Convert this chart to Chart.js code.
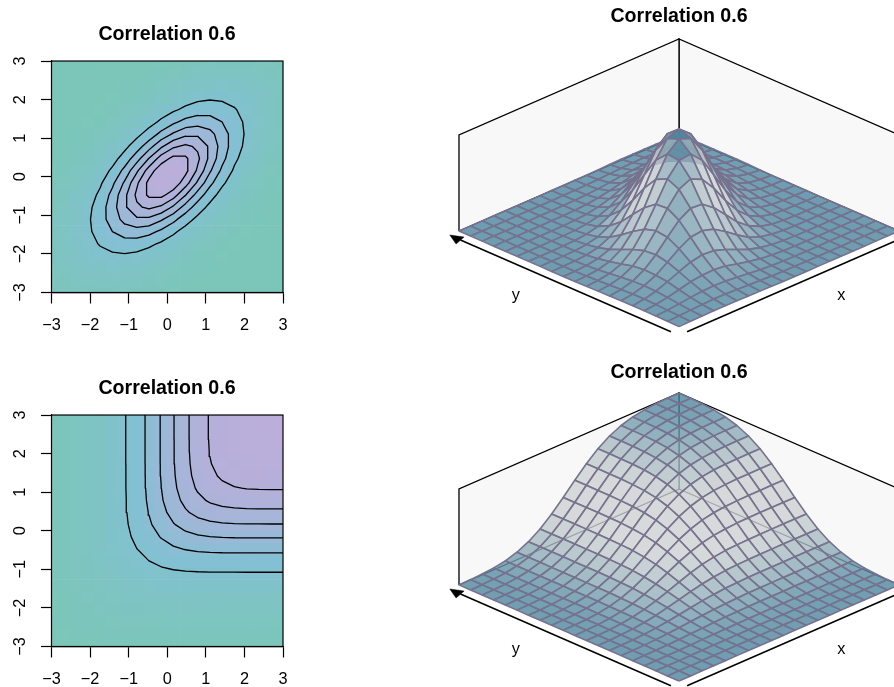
<!DOCTYPE html>
<html>
<head>
<meta charset="utf-8">
<script src="https://cdn.jsdelivr.net/npm/chart.js@4/dist/chart.umd.min.js"></script>
<style>
  html, body { margin: 0; padding: 0; background: #fff; overflow: hidden; width: 894px; height: 687px; }
  .panel { position: absolute; }
</style>
</head>
<body>
<div class="panel" style="left:0;top:0;width:334px;height:345px"><canvas id="densityMap"></canvas></div>
<div class="panel" style="left:0;top:354px;width:334px;height:333px"><canvas id="cdfMap"></canvas></div>
<div class="panel" style="left:447px;top:0;width:464px;height:345px"><canvas id="densitySurface"></canvas></div>
<div class="panel" style="left:447px;top:354px;width:464px;height:333px"><canvas id="cdfSurface"></canvas></div>
<script>
const titleText = 'Correlation 0.6';
const tickValues = [-3, -2, -1, 0, 1, 2, 3];
const tickLabels = ['\u22123', '\u22122', '\u22121', '0', '1', '2', '3'];
// the picture has 20 mesh lines per side
const gridValues = [-3, -2.684, -2.368, -2.053, -1.737, -1.421, -1.105, -0.789, -0.474, -0.158, 0.158, 0.474, 0.789, 1.105, 1.421, 1.737, 2.053, 2.368, 2.684, 3];

// heights are in thousandths, estimated for each grid node so the mesh and contours line up with the picture
// one row per y, from y = -3 up to y = 3
const densityRows = [
  [.72,1.2,1.7,2.1,2.2,2,1.5,.99,.56,.27,.11,.04,.01,0,0,0,0,0,0,0],
  [1.2,2.2,3.4,4.7,5.4,5.2,4.4,3.2,2,1.05,.47,.18,.06,.02,0,0,0,0,0,0],
  [1.7,3.4,5.9,8.8,11,12,11,8.8,5.9,3.4,1.7,.73,.27,.08,.02,0,0,0,0,0],
  [2.1,4.7,8.8,14,20,23,24,21,15,9.8,5.4,2.5,.99,.34,.1,.02,0,0,0,0],
  [2.2,5.4,11,20,30,39,44,42,34,24,14,7.3,3.2,1.2,.38,.1,.02,0,0,0],
  [2,5.2,12,23,39,56,69,72,65,50,33,18,8.8,3.6,1.3,.38,.1,.02,0,0],
  [1.5,4.4,11,24,44,69,93,107,105,88,64,39,21,9.4,3.6,1.2,.34,.08,.02,0],
  [.99,3.2,8.8,21,42,72,107,135,146,135,107,72,42,21,8.8,3.2,.99,.27,.06,.01],
  [.56,2,5.9,15,34,65,105,146,173,176,153,113,72,39,18,7.3,2.5,.73,.18,.04],
  [.27,1.05,3.4,9.8,24,50,88,135,176,196,187,153,107,64,33,14,5.4,1.7,.47,.11],
  [.11,.47,1.7,5.4,14,33,64,107,153,187,196,176,135,88,50,24,9.8,3.4,1.05,.27],
  [.04,.18,.73,2.5,7.3,18,39,72,113,153,176,173,146,105,65,34,15,5.9,2,.56],
  [.01,.06,.27,.99,3.2,8.8,21,42,72,107,135,146,135,107,72,42,21,8.8,3.2,.99],
  [0,.02,.08,.34,1.2,3.6,9.4,21,39,64,88,105,107,93,69,44,24,11,4.4,1.5],
  [0,0,.02,.1,.38,1.3,3.6,8.8,18,33,50,65,72,69,56,39,23,12,5.2,2],
  [0,0,0,.02,.1,.38,1.2,3.2,7.3,14,24,34,42,44,39,30,20,11,5.4,2.2],
  [0,0,0,0,.02,.1,.34,.99,2.5,5.4,9.8,15,21,24,23,20,14,8.8,4.7,2.1],
  [0,0,0,0,0,.02,.08,.27,.73,1.7,3.4,5.9,8.8,11,12,11,8.8,5.9,3.4,1.7],
  [0,0,0,0,0,0,.02,.06,.18,.47,1.05,2,3.2,4.4,5.2,5.4,4.7,3.4,2.2,1.2],
  [0,0,0,0,0,0,0,.01,.04,.11,.27,.56,.99,1.5,2,2.2,2.1,1.7,1.2,.72]
];
const cdfRows = [
  [.14,.26,.42,.63,.84,1,1.2,1.25,1.3,1.3,1.3,1.35,1.35,1.35,1.35,1.35,1.35,1.35,1.35,1.35],
  [.26,.51,.89,1.4,1.9,2.5,2.9,3.2,3.5,3.6,3.6,3.6,3.6,3.6,3.6,3.6,3.6,3.6,3.6,3.6],
  [.42,.89,1.65,2.7,4,5.4,6.6,7.6,8.3,8.6,8.8,8.9,8.9,8.9,8.9,8.9,8.9,8.9,8.9,8.9],
  [.63,1.4,2.7,4.8,7.4,10,13,16,18,19,19.6,19.9,20,20,20,20,20,20,20,20],
  [.84,1.9,4,7.4,12,18,24,30,35,38,40,41,41,41,41,41,41,41,41,41],
  [1,2.5,5.4,10,18,28,40,51,61,68,73,76,77,77,78,78,78,78,78,78],
  [1.2,2.9,6.6,13,24,40,58,79,97,112,123,129,132,134,134,134,135,135,135,135],
  [1.25,3.2,7.6,16,30,51,79,110,141,168,188,202,209,213,214,215,215,215,215,215],
  [1.3,3.5,8.3,18,35,61,97,141,188,231,266,290,305,312,316,317,318,318,318,318],
  [1.3,3.6,8.6,19,38,68,112,168,231,292,345,385,411,425,433,436,437,437,437,437],
  [1.3,3.6,8.8,19.6,40,73,123,188,266,345,418,476,516,540,553,559,562,562,563,563],
  [1.35,3.6,8.9,19.9,41,76,129,202,290,385,476,552,608,645,665,675,680,681,682,682],
  [1.35,3.6,8.9,20,41,77,132,209,305,411,516,608,680,729,758,774,781,784,785,785],
  [1.35,3.6,8.9,20,41,77,134,213,312,425,540,645,729,789,827,848,859,863,865,865],
  [1.35,3.6,8.9,20,41,78,134,214,316,433,553,665,758,827,872,899,913,919,921,922],
  [1.35,3.6,8.9,20,41,78,134,215,317,436,559,675,774,848,899,929,946,954,957,958],
  [1.35,3.6,8.9,20,41,78,135,215,318,437,562,680,781,859,913,946,964,974,978,979],
  [1.35,3.6,8.9,20,41,78,135,215,318,437,562,681,784,863,919,954,974,984,988,990],
  [1.35,3.6,8.9,20,41,78,135,215,318,437,563,682,785,865,921,957,978,988,993,995],
  [1.35,3.6,8.9,20,41,78,135,215,318,437,563,682,785,865,922,958,979,990,995,997]
];
const densityLevels = [28, 56, 84, 112, 140, 168];
const cdfLevels = [142.4, 284.9, 427.3, 569.7, 712.1, 854.6];

const font = 'Liberation Sans, Arial, sans-serif';
Chart.defaults.font.family = font;
Chart.defaults.color = '#000';
Chart.defaults.animation = false;

const mix = (a, b, t) => a.map((v, k) => v + (b[k] - v) * t);
const rgb = (c) => `rgb(${c.map(Math.round).join(',')})`;

function heatColor(z, zTop) {
  const t = Math.pow(z / zTop, 0.45);
  const teal = [123, 198, 184], blue = [131, 192, 212], lavender = [187, 174, 219];
  return rgb(t < 0.5 ? mix(teal, blue, t / 0.5) : mix(blue, lavender, (t - 0.5) / 0.5));
}

// marching squares over the grid, one broken line per level
function contourPoints(rows, level) {
  const pts = [];
  const cross = (x0, y0, z0, x1, y1, z1) => {
    if ((z0 < level) === (z1 < level)) return null;
    const f = (level - z0) / (z1 - z0);
    return { x: x0 + (x1 - x0) * f, y: y0 + (y1 - y0) * f };
  };
  for (let j = 0; j < gridValues.length - 1; j++) {
    for (let i = 0; i < gridValues.length - 1; i++) {
      const x0 = gridValues[i], x1 = gridValues[i + 1], y0 = gridValues[j], y1 = gridValues[j + 1];
      const a = rows[j][i], b = rows[j][i + 1], c = rows[j + 1][i + 1], d = rows[j + 1][i];
      const hits = [cross(x0, y0, a, x1, y0, b), cross(x1, y0, b, x1, y1, c), cross(x1, y1, c, x0, y1, d), cross(x0, y1, d, x0, y0, a)].filter(Boolean);
      for (let k = 0; k + 1 < hits.length; k += 2) {
        pts.push(hits[k], hits[k + 1], { x: null, y: null });
      }
    }
  }
  return pts;
}

const boxPlugin = {
  id: 'box',
  afterDatasetsDraw(chart) {
    const { ctx, chartArea: a } = chart;
    ctx.save();
    ctx.strokeStyle = '#000';
    ctx.lineWidth = 1.2;
    ctx.strokeRect(a.left, a.top, a.right - a.left, a.bottom - a.top);
    ctx.restore();
  }
};

function makeMap(id, rows, levels, canvasHeight) {
  const zTop = Math.max(...rows.flat());
  const cells = [], colors = [];
  rows.forEach((row, j) => row.forEach((z, i) => {
    cells.push({ x: gridValues[i], y: gridValues[j] });
    colors.push(heatColor(z, zTop));
  }));
  const lines = levels.map((level) => ({
    data: contourPoints(rows, level),
    showLine: true,
    pointRadius: 0,
    borderColor: '#000',
    borderWidth: 1.3,
    borderCapStyle: 'round',
    clip: 0
  }));
  new Chart(document.getElementById(id), {
    type: 'scatter',
    data: {
      datasets: [...lines, {
        data: cells,
        pointStyle: 'rect',
        pointRadius: 9.1,
        pointBorderWidth: 0,
        pointBackgroundColor: colors,
        clip: 0
      }]
    },
    options: {
      responsive: false,
      events: [],
      layout: { autoPadding: false },
      plugins: {
        legend: { display: false },
        tooltip: { enabled: false },
        title: {
          display: true,
          text: titleText,
          font: { size: 19.6, weight: 'bold' },
          color: '#000',
          padding: { top: 22.5, bottom: 15 }
        }
      },
      scales: {
        x: {
          type: 'linear',
          min: -3,
          max: 3,
          afterBuildTicks: (s) => { s.ticks = tickValues.map((value) => ({ value })); },
          afterFit: (s) => { s.height = canvasHeight - 292.5; },
          border: { display: true, color: '#000', width: 1.2 },
          grid: { drawOnChartArea: false, color: '#000', tickLength: 11, tickWidth: 1.2 },
          ticks: { autoSkip: false, maxRotation: 0, padding: 12, font: { size: 16.3 }, color: '#000', callback: (v) => tickLabels[tickValues.indexOf(v)] }
        },
        y: {
          type: 'linear',
          min: -3,
          max: 3,
          afterBuildTicks: (s) => { s.ticks = tickValues.map((value) => ({ value })); },
          afterFit: (s) => { s.width = 51.5; },
          border: { display: true, color: '#000', width: 1.2 },
          grid: { drawOnChartArea: false, color: '#000', tickLength: 10.5, tickWidth: 1.2 },
          ticks: { autoSkip: false, minRotation: 90, maxRotation: 90, crossAlign: 'center', padding: 11, font: { size: 16.3 }, color: '#000', callback: (v) => tickLabels[tickValues.indexOf(v)] }
        },
        // empty axis, holds the right margin so the title stays centred on the whole panel
        margin: {
          axis: 'y',
          type: 'linear',
          position: 'right',
          afterFit: (s) => { s.width = 51; },
          border: { display: false },
          grid: { display: false },
          ticks: { display: false }
        }
      }
    },
    plugins: [boxPlugin]
  }).canvas.style.display = 'block';
}

// world (x, y, height) to the flat view plane; the chart's hidden scales do the rest
const project = (x, y, h) => ({ x: (x - y) / 6, y: (x + y) / 6 + h });

// facet brightness follows the raw slope, sideWeight tunes sideways slopes per panel
function facetColor(z00, z10, z11, z01, sideWeight) {
  const step = 1 / 19, lift = 0.344 / 997;
  const dx = ((z10 + z11) - (z00 + z01)) / 2 * lift / step;
  const dy = ((z01 + z11) - (z00 + z10)) / 2 * lift / step;
  const front = (dx + dy) / Math.SQRT2, side = (dx - dy) / Math.SQRT2 * sideWeight;
  let t = Math.min(1, 1.75 * Math.sqrt(front * front + side * side));
  if (front < 0) t *= 0.5;
  const c = mix([74, 132, 157], [204, 209, 209], t);
  return `rgba(${c.map(Math.round).join(',')},0.8)`;
}

function makeSurface(id, rows, heightScale, canvasHeight, titlePad, sideWeight) {
  const zTop = Math.max(...rows.flat());
  const n = gridValues.length;
  const order = [];
  for (let j = 0; j < n - 1; j++) for (let i = 0; i < n - 1; i++) order.push([i, j]);
  // front facets first: chart.js paints the last dataset first
  order.sort((p, q) => (p[0] + p[1]) - (q[0] + q[1]));
  const facets = order.map(([i, j]) => {
    const at = (a, b) => project(gridValues[a], gridValues[b], rows[b][a] / zTop * heightScale);
    return {
      data: [at(i, j), at(i + 1, j), at(i + 1, j + 1), at(i, j + 1), at(i, j)],
      showLine: true,
      fill: 'shape',
      pointRadius: 0,
      backgroundColor: facetColor(rows[j][i], rows[j][i + 1], rows[j + 1][i + 1], rows[j + 1][i], sideWeight),
      borderColor: '#77728e',
      borderWidth: 1.6,
      borderJoinStyle: 'round'
    };
  });
  const wall = (pts) => ({
    data: pts,
    showLine: true,
    fill: 'shape',
    pointRadius: 0,
    backgroundColor: '#f8f8f8',
    borderColor: '#000',
    borderWidth: 1.3
  });
  const leftWall = wall([project(-3, 3, 0), project(-3, 3, 1), project(3, 3, 1), project(3, 3, 0), project(-3, 3, 0)]);
  const rightWall = wall([project(3, 3, 0), project(3, 3, 1), project(3, -3, 1), project(3, -3, 0), project(3, 3, 0)]);
  const axisLine = (pts) => ({ data: pts, showLine: true, pointRadius: 0, borderColor: '#000', borderWidth: 1.5 });
  const arrow = (pts) => ({ data: pts, showLine: true, fill: 'shape', pointRadius: 0, backgroundColor: '#000', borderColor: '#000', borderWidth: 0.5 });
  const axes = [
    axisLine([project(-3.26, -3.04, 0), project(-3.26, 2.7, 0)]),
    axisLine([project(-3.04, -3.26, 0), project(2.7, -3.26, 0)]),
    arrow([project(-3.25, 3, 0), project(-3.12, 2.74, 0), project(-3.445, 2.635, 0), project(-3.25, 3, 0)]),
    arrow([project(3, -3.25, 0), project(2.74, -3.12, 0), project(2.635, -3.445, 0), project(3, -3.25, 0)])
  ];
  const labelPlugin = {
    id: 'axisNames',
    afterDatasetsDraw(chart) {
      const { ctx, scales } = chart;
      ctx.save();
      ctx.font = `16.3px ${font}`;
      ctx.fillStyle = '#000';
      ctx.textAlign = 'center';
      ctx.textBaseline = 'middle';
      ctx.fillText('y', scales.x.getPixelForValue(-0.742), scales.y.getPixelForValue(-0.667));
      ctx.fillText('x', scales.x.getPixelForValue(0.738), scales.y.getPixelForValue(-0.677));
      ctx.restore();
    }
  };
  new Chart(document.getElementById(id), {
    type: 'scatter',
    data: { datasets: [...axes, ...facets, leftWall, rightWall] },
    options: {
      responsive: false,
      events: [],
      layout: { autoPadding: false },
      plugins: {
        legend: { display: false },
        tooltip: { enabled: false },
        title: {
          display: true,
          text: titleText,
          font: { size: 19.6, weight: 'bold' },
          color: '#000',
          padding: { top: titlePad, bottom: 30 - titlePad - 23.52 }
        }
      },
      scales: {
        x: { type: 'linear', display: false, min: -1.0545, max: 1.0545 },
        y: { type: 'linear', display: false, min: (231 - canvasHeight) / 96, max: 201 / 96 }
      }
    },
    plugins: [labelPlugin]
  }).canvas.style.display = 'block';
}

function sizeCanvas(id, w, h) {
  const c = document.getElementById(id);
  c.width = w;
  c.height = h;
  c.style.width = w + 'px';
  c.style.height = h + 'px';
}
sizeCanvas('densityMap', 334, 345);
sizeCanvas('cdfMap', 334, 333);
sizeCanvas('densitySurface', 464, 345);
sizeCanvas('cdfSurface', 464, 333);

makeMap('densityMap', densityRows, densityLevels, 345);
makeMap('cdfMap', cdfRows, cdfLevels, 333);
makeSurface('densitySurface', densityRows, 1.01, 345, 5, 1.6);
makeSurface('cdfSurface', cdfRows, 1.0, 333, 6.4, 0.45);
</script>
</body>
</html>
